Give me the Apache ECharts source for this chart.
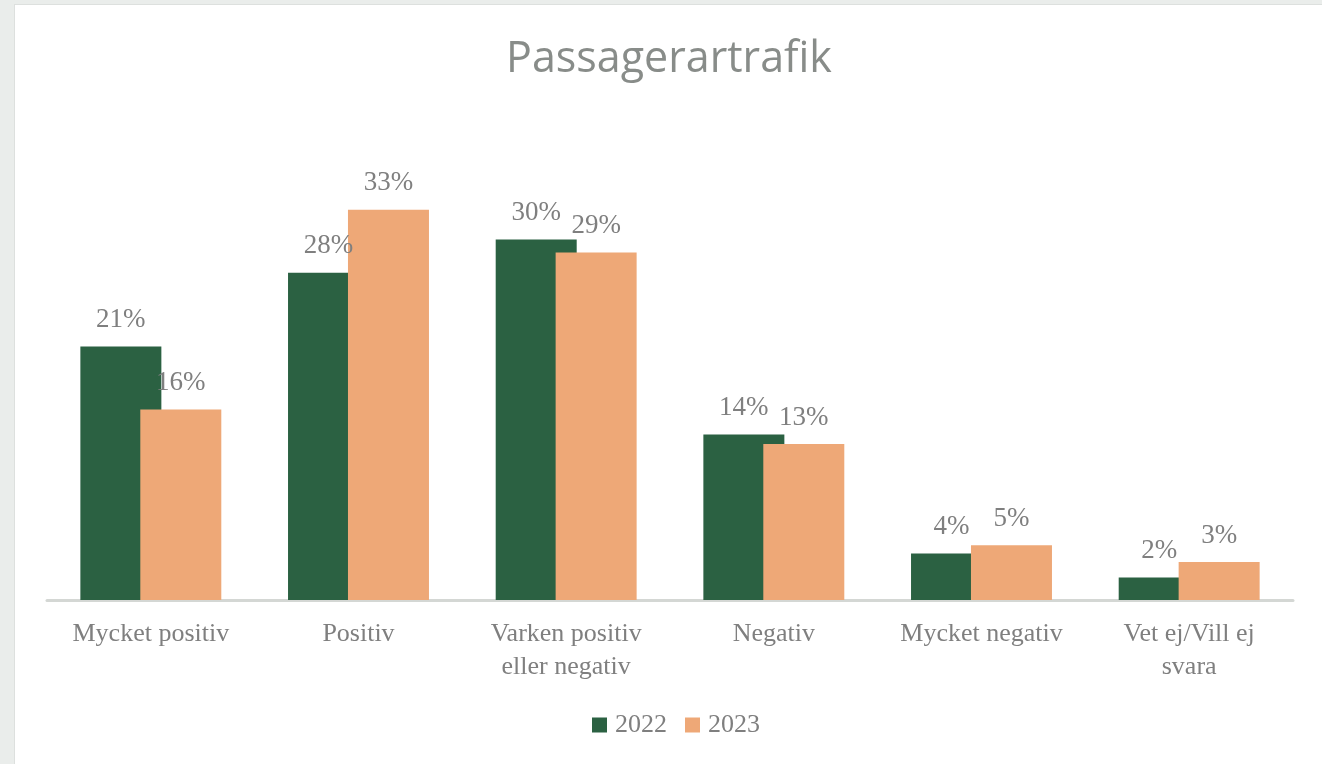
<!DOCTYPE html>
<html>
<head>
<meta charset="UTF-8">
<title>Passagerartrafik</title>
<script src="https://cdn.jsdelivr.net/npm/echarts@6/dist/echarts.min.js"></script>
<style>
    html, body { margin: 0; padding: 0; background: #eaedeb; }
    #panel { position: absolute; left: 14px; top: 4px; width: 1308px; height: 760px; background: #fff; border-left: 1px solid #dde0de; border-top: 1px solid #dde0de; }
    #chart { position: absolute; left: 0; top: 0; width: 1322px; height: 764px; }
</style>
</head>
<body>
<div id="panel"></div>
<div id="chart"></div>
<script type="text/javascript">
// data (percent)
var categories = ['Mycket positiv', 'Positiv', 'Varken positiv\neller negativ', 'Negativ', 'Mycket negativ', 'Vet ej/Vill ej\nsvara'];
var years = ['2022', '2023'];
var values2022 = [21.3, 27.5, 30.3, 13.9, 3.9, 1.9];
var values2023 = [16.0, 32.8, 29.2, 13.1, 4.6, 3.2];

var serif = '"Liberation Serif", "DejaVu Serif", serif';
var labelGray = '#7f7f7f';

var chart = echarts.init(document.getElementById('chart'));

function barLabel() {
    return {
        show: true,
        position: 'top',
        distance: 13,
        color: labelGray,
        fontFamily: serif,
        fontSize: 27,
        formatter: function (p) { return Math.round(p.value) + '%'; }
    };
}

var option = {
    animation: false,
    title: {
        text: 'Passagerartrafik',
        left: 664,
        textAlign: 'center',
        top: 33,
        textStyle: {
            fontFamily: '"Open Sans", "Noto Sans", sans-serif',
            fontWeight: 'normal',
            fontSize: 43,
            color: '#888c89'
        }
    },
    legend: {
        data: years,
        top: 707,
        left: 587,
        icon: 'rect',
        itemWidth: 15,
        itemHeight: 15,
        itemGap: 18,
        textStyle: { fontFamily: serif, fontSize: 26, color: labelGray, padding: [0, 0, 0, 3] }
    },
    grid: { left: 47, right: 29, top: 124, bottom: 164 },
    xAxis: {
        type: 'category',
        data: categories,
        axisTick: { show: false },
        axisLine: { lineStyle: { color: '#d4d7d4', width: 3 } },
        axisLabel: {
            interval: 0,
            margin: 18,
            color: labelGray,
            fontFamily: serif,
            fontSize: 26,
            lineHeight: 33
        }
    },
    yAxis: {
        type: 'value',
        min: 0,
        max: 40,
        show: false
    },
    series: [
        {
            name: years[0],
            type: 'bar',
            data: values2022,
            barWidth: 81,
            barGap: '-26%',
            itemStyle: { color: '#2b6142' },
            label: barLabel()
        },
        {
            name: years[1],
            type: 'bar',
            data: values2023,
            barWidth: 81,
            barGap: '-26%',
            itemStyle: { color: '#eea877' },
            label: barLabel()
        }
    ]
};

chart.setOption(option);
</script>
</body>
</html>
